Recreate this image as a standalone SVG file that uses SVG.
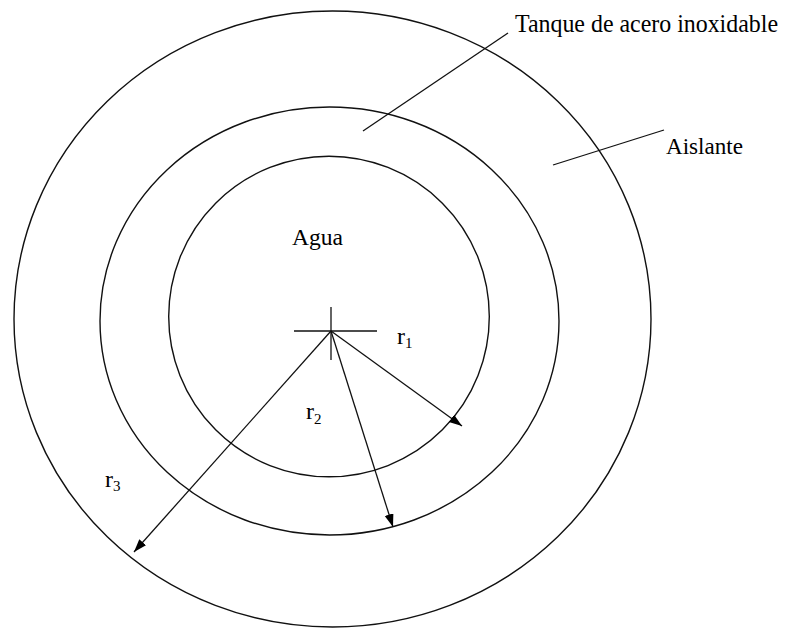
<svg xmlns="http://www.w3.org/2000/svg" width="787" height="628" viewBox="0 0 787 628">
<style>
.shape{fill:none;stroke:#111;stroke-width:1.4}
.conn{fill:none;stroke:#111;stroke-width:1.3}
.lbl{font-family:"Liberation Serif","Times New Roman",serif;fill:#000}
</style>
<defs>
<marker id="ah" markerUnits="userSpaceOnUse" markerWidth="14" markerHeight="10" refX="13" refY="4.5" orient="auto">
<path d="M0,0 L13,4.5 L0,9 z" fill="#000"/>
</marker>
</defs>
<rect width="787" height="628" fill="#fff"/>
<g id="aislante">
<ellipse class="shape" cx="332.5" cy="319" rx="318.5" ry="308"/>
<text class="lbl" x="666" y="154" font-size="24" textLength="77" lengthAdjust="spacingAndGlyphs">Aislante</text>
</g>
<g id="tanque">
<ellipse class="shape" cx="329.5" cy="321" rx="229.5" ry="214"/>
<text class="lbl" x="515" y="32" font-size="25" textLength="263" lengthAdjust="spacingAndGlyphs">Tanque de acero inoxidable</text>
</g>
<g id="agua">
<circle class="shape" cx="329" cy="316.5" r="160.3"/>
<text class="lbl" x="292" y="245" font-size="24" textLength="51" lengthAdjust="spacingAndGlyphs">Agua</text>
</g>
<g id="centro">
<line class="conn" x1="294" y1="331" x2="377" y2="331"/>
<line class="conn" x1="331" y1="307" x2="331" y2="360"/>
</g>
<g id="connectors">
<line class="conn" x1="508" y1="33" x2="363" y2="131"/>
<line class="conn" x1="553" y1="165" x2="664" y2="130"/>
<line class="conn" x1="331" y1="331" x2="462" y2="426" marker-end="url(#ah)"/>
<line class="conn" x1="331" y1="331" x2="393" y2="527" marker-end="url(#ah)"/>
<line class="conn" x1="331" y1="331" x2="134" y2="552" marker-end="url(#ah)"/>
</g>
<g id="radios">
<text class="lbl" x="397" y="344" font-size="24">r<tspan font-size="15" dy="4">1</tspan></text>
<text class="lbl" x="306" y="419" font-size="24">r<tspan font-size="15" dy="5">2</tspan></text>
<text class="lbl" x="105" y="487" font-size="24">r<tspan font-size="15" dy="4">3</tspan></text>
</g>
</svg>
